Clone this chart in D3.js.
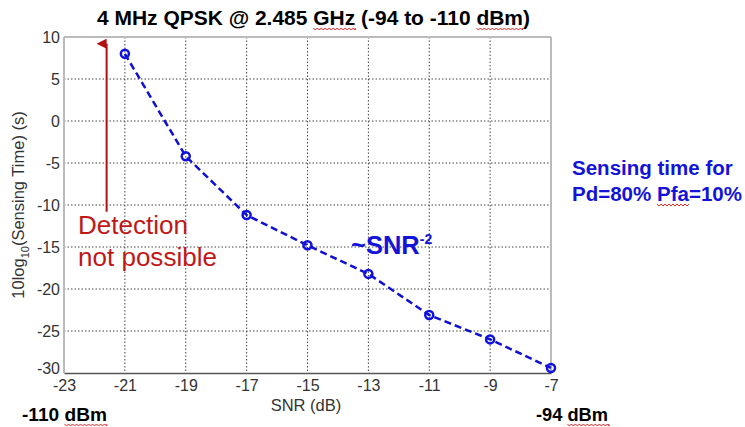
<!DOCTYPE html>
<html><head><meta charset="utf-8">
<script src="https://cdn.jsdelivr.net/npm/d3@7"></script>
<style>body{margin:0;background:#fff}svg{display:block}text{font-family:Arial,"Liberation Sans",sans-serif}</style>
</head><body>
<svg id="c" width="745" height="427"></svg>
<script>
const snr = [-21, -19, -17, -15, -13, -11, -9, -7];
const sensing = [8, -4.2, -11.2, -14.8, -18.2, -23.1, -26, -29.4];
const xTicks = [-23, -21, -19, -17, -15, -13, -11, -9, -7];
const yTicks = [10, 5, 0, -5, -10, -15, -20, -25, -30];

const svg = d3.select("#c");
const L = 64, R = 551, T = 37, B = 373;
const x = d3.scaleLinear().domain([-23, -7]).range([L, R]);
const y = d3.scaleLinear().domain([-30, 10]).range([B, T]);

// grid
const g = svg.append("g");
g.selectAll(".gx").data(xTicks.slice(1, -1)).join("line")
  .attr("x1", d => x(d)).attr("x2", d => x(d)).attr("y1", T).attr("y2", B)
  .attr("stroke", "#444").attr("stroke-width", 1).attr("stroke-dasharray", "1.5,2");
g.selectAll(".gy").data(yTicks.slice(1, -1)).join("line")
  .attr("y1", d => y(d)).attr("y2", d => y(d)).attr("x1", L).attr("x2", R)
  .attr("stroke", "#444").attr("stroke-width", 1).attr("stroke-dasharray", "1.5,2");

// box
svg.append("line").attr("x1", L).attr("x2", R).attr("y1", T).attr("y2", T).attr("stroke", "#bbb").attr("stroke-width", 2);
svg.append("line").attr("x1", R).attr("x2", R).attr("y1", T).attr("y2", B).attr("stroke", "#bbb").attr("stroke-width", 2);
svg.append("line").attr("x1", L).attr("x2", L).attr("y1", T).attr("y2", B).attr("stroke", "#bbb").attr("stroke-width", 2);

// axes
const fmt = d => String(d);
const xAxis = svg.append("g").attr("transform", `translate(0,${B})`)
  .call(d3.axisBottom(x).tickValues(xTicks).tickSize(0).tickPadding(7).tickFormat(fmt));
xAxis.select(".domain").attr("stroke", "#555").attr("stroke-width", 1.5);
xAxis.selectAll("text").attr("font-size", 16).attr("fill", "#333").attr("font-family", "Arial");
const yAxis = svg.append("g").attr("transform", `translate(${L},0)`)
  .call(d3.axisLeft(y).tickValues(yTicks).tickSize(0).tickPadding(4).tickFormat(fmt));
yAxis.select(".domain").remove();
yAxis.selectAll("text").attr("font-size", 16).attr("fill", "#333").attr("font-family", "Arial")
  .attr("dy", d => d === -30 ? "0.0em" : "0.32em");

// line
const pts = snr.map((s, i) => [s, sensing[i]]);
svg.append("path").datum(pts)
  .attr("d", d3.line().x(d => x(d[0])).y(d => y(d[1])))
  .attr("fill", "none").attr("stroke", "#1010d0").attr("stroke-width", 2.5).attr("stroke-dasharray", "7,4");
svg.selectAll(".pt").data(pts).join("circle")
  .attr("cx", d => x(d[0])).attr("cy", d => y(d[1])).attr("r", 4)
  .attr("fill", "none").attr("stroke", "#1010e0").attr("stroke-width", 2.5);

// red arrow
const ax = x(-21.6);
svg.append("defs").append("marker").attr("id", "ah").attr("viewBox", "0 0 10 10")
  .attr("refX", 5).attr("refY", 10).attr("markerWidth", 5).attr("markerHeight", 6).attr("orient", "auto-start-reverse")
  .append("path").attr("d", "M0,10 L5,0 L10,10 Z").attr("fill", "#b01010");
svg.append("line").attr("x1", ax).attr("x2", ax).attr("y1", y(-10.8)).attr("y2", y(9.2))
  .attr("stroke", "#b01010").attr("stroke-width", 2).attr("marker-end", "url(#ah)");

// fit helper: scale font-size so the text spans a target width
function fit(sel, width) {
  const w = sel.node().getComputedTextLength();
  const fs = parseFloat(sel.attr("font-size"));
  sel.attr("font-size", fs * width / w);
}

const wavy = [];

// texts
const title = svg.append("text").attr("x", 313.5).attr("y", 25).attr("text-anchor", "middle")
  .attr("font-size", 18).attr("font-weight", "bold");
title.append("tspan").text("4 MHz QPSK @ 2.485 ");
wavy.push(title.append("tspan").text("GHz"));
title.append("tspan").text(" (-94 to -110 ");
wavy.push(title.append("tspan").text("dBm"));
title.append("tspan").text(")");
fit(title, 433);

svg.append("text").attr("x", 306).attr("y", 411).attr("text-anchor", "middle")
  .attr("font-size", 16.5).attr("fill", "#333").text("SNR (dB)");
const yl = svg.append("text").attr("transform", "translate(24,205) rotate(-90)").attr("text-anchor", "middle")
  .attr("font-size", 16.5).attr("fill", "#333");
yl.append("tspan").text("10log");
yl.append("tspan").attr("font-size", 11).attr("dy", 5).text("10");
yl.append("tspan").attr("dy", -5).text("(Sensing Time) (s)");

const red1 = svg.append("text").attr("fill", "#c01818").attr("font-size", 26)
  .attr("x", 78).attr("y", 234).text("Detection");
const red2 = svg.append("text").attr("fill", "#c01818").attr("font-size", 26)
  .attr("x", 78).attr("y", 266).text("not possible");
fit(red2, 139);
red1.attr("font-size", red2.attr("font-size"));

const snrT = svg.append("text").attr("x", 351).attr("y", 254).attr("fill", "#1414d8")
  .attr("font-size", 24).attr("font-weight", "bold");
snrT.append("tspan").text("~SNR");
snrT.append("tspan").attr("font-size", 14).attr("dy", -10).text("-2");
fit(snrT, 82);

const st1 = svg.append("text").attr("fill", "#1414d8").attr("font-size", 20).attr("font-weight", "bold")
  .attr("x", 572).attr("y", 175).text("Sensing time for");
const st2 = svg.append("text").attr("fill", "#1414d8").attr("font-size", 20).attr("font-weight", "bold")
  .attr("x", 572).attr("y", 201);
st2.append("tspan").text("Pd=80% ");
wavy.push(st2.append("tspan").text("Pfa"));
st2.append("tspan").text("=10%");
fit(st2, 170);
st1.attr("font-size", st2.attr("font-size"));

const t1 = svg.append("text").attr("x", 22).attr("y", 421).attr("font-size", 18).attr("font-weight", "bold");
t1.append("tspan").text("-110 ");
wavy.push(t1.append("tspan").text("dBm"));
fit(t1, 85);
const t2 = svg.append("text").attr("x", 536).attr("y", 421).attr("font-size", 18).attr("font-weight", "bold");
t2.append("tspan").text("-94 ");
wavy.push(t2.append("tspan").text("dBm"));
fit(t2, 72);

wavy.forEach(ts => {
  const node = ts.node();
  const p = node.getStartPositionOfChar(0);
  const w = node.getComputedTextLength();
  const yy = p.y + 3;
  let d = `M${p.x},${yy}`;
  for (let xx = p.x; xx < p.x + w; xx += 4) {
    d += ` L${xx + 2},${yy + 2} L${Math.min(xx + 4, p.x + w)},${yy}`;
  }
  svg.append("path").attr("d", d).attr("fill", "none").attr("stroke", "#e02020").attr("stroke-width", 1);
});
</script>
</body></html>
